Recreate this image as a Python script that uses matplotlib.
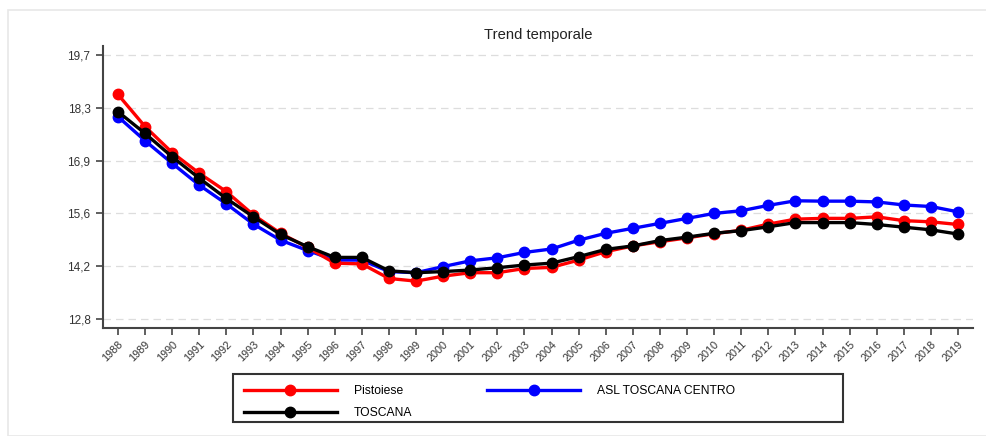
import matplotlib
matplotlib.use("Agg")
import matplotlib.pyplot as plt
from matplotlib.patches import Rectangle
from matplotlib.lines import Line2D

plt.rcParams['font.family'] = ['Liberation Sans', 'DejaVu Sans']

years = list(range(1988, 2020))
pistoiese = [18.67, 17.83, 17.15, 16.61, 16.13, 15.52, 15.04, 14.67, 14.26, 14.24,
             13.86, 13.79, 13.92, 14.01, 14.01, 14.12, 14.15, 14.34, 14.56, 14.71,
             14.82, 14.92, 15.03, 15.12, 15.28, 15.41, 15.43, 15.43, 15.47, 15.37,
             15.34, 15.27]
asl_centro = [18.09, 17.46, 16.87, 16.30, 15.81, 15.28, 14.86, 14.59, 14.34, 14.34,
              14.04, 14.01, 14.17, 14.32, 14.40, 14.54, 14.63, 14.86, 15.04, 15.17,
              15.30, 15.43, 15.56, 15.63, 15.77, 15.89, 15.88, 15.88, 15.86, 15.78,
              15.74, 15.60]
toscana = [18.22, 17.65, 17.04, 16.48, 15.95, 15.47, 15.01, 14.69, 14.41, 14.41,
           14.06, 14.01, 14.04, 14.08, 14.14, 14.21, 14.26, 14.43, 14.62, 14.71,
           14.85, 14.94, 15.04, 15.11, 15.21, 15.32, 15.32, 15.32, 15.27, 15.20,
           15.13, 15.02]
ytick_values = [12.8, 14.18, 15.56, 16.94, 18.32, 19.7]
ytick_labels = ["12,8", "14,2", "15,6", "16,9", "18,3", "19,7"]
series_names = ["Pistoiese", "ASL TOSCANA CENTRO", "TOSCANA"]

W, H = 987, 436
fig = plt.figure(figsize=(W / 100, H / 100), dpi=100)
fig.patch.set_facecolor("white")

# outer light frame
fig.patches.append(Rectangle((8 / W, 0), 1, 1 - 10 / H, transform=fig.transFigure,
                             fill=False, edgecolor="#e8e8e8", linewidth=1.2))

ax = fig.add_axes([103 / W, 1 - 328 / H, (973 - 103) / W, (328 - 46) / H])

lw, ms = 2.4, 7.5
ax.plot(years, asl_centro, color="#0000ff", lw=lw, marker="o", ms=ms, zorder=3)
ax.plot(years, pistoiese, color="#ff0000", lw=lw, marker="o", ms=ms, zorder=4)
ax.plot(years, toscana, color="#000000", lw=lw, marker="o", ms=ms, zorder=5)

ax.set_xlim(1987.45, 2019.55)
ax.set_ylim(12.565, 19.935)
ax.set_yticks(ytick_values)
ax.set_yticklabels(ytick_labels)
ax.set_xticks(years)
ax.set_xticklabels([str(y) for y in years], rotation=45, ha="right",
                   rotation_mode="anchor")

for s in ["top", "right"]:
    ax.spines[s].set_visible(False)
for s in ["left", "bottom"]:
    ax.spines[s].set_color("#444444")
    ax.spines[s].set_linewidth(1.5)
ax.tick_params(axis="both", colors="#444444", length=5, width=1.2,
               labelcolor="#333333")
ax.tick_params(axis="y", labelsize=8.5, pad=4)
ax.tick_params(axis="x", labelsize=7.8, pad=3)
ax.grid(axis="y", color="#dddddd", linestyle=(0, (6, 4)), linewidth=0.9)
ax.set_axisbelow(True)

fig.text(538 / W, 1 - 35 / H, "Trend temporale", ha="center", va="center",
         fontsize=10.6, color="#222222")

# legend
handles = [
    Line2D([], [], color="#ff0000", lw=lw, marker="o", ms=ms),
    Line2D([], [], color="#000000", lw=lw, marker="o", ms=ms),
    Line2D([], [], color="#0000ff", lw=lw, marker="o", ms=ms),
]
labels = [series_names[0], series_names[2], series_names[1]]
leg = fig.legend(handles, labels, ncol=2, loc="upper left",
                 bbox_to_anchor=(233 / W, 1 - 374 / H), frameon=False,
                 fontsize=8.7, handlelength=7.7, handletextpad=1.4,
                 columnspacing=6.2, labelspacing=0.85, borderpad=0.4)
fig.patches.append(Rectangle((233 / W, 1 - 422 / H), (843 - 233) / W, (422 - 374) / H,
                             transform=fig.transFigure, fill=False,
                             edgecolor="#333333", linewidth=1.5))

fig.savefig("out.png", dpi=100)
